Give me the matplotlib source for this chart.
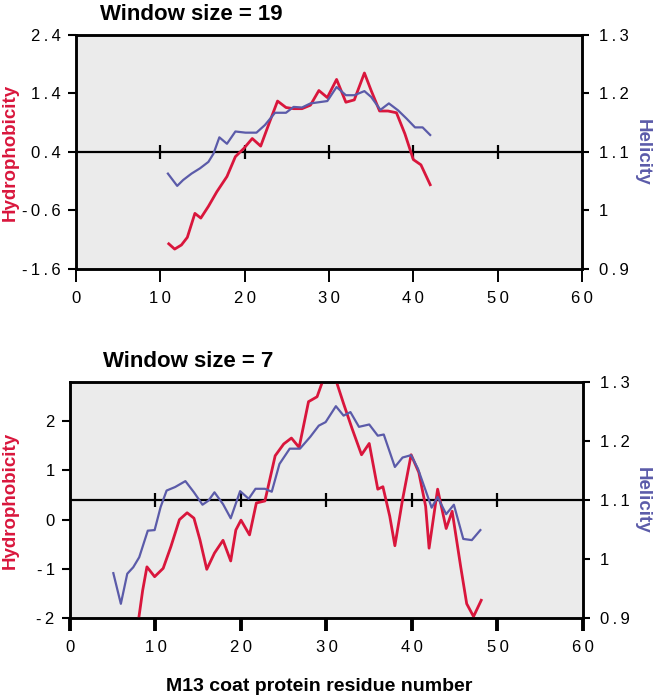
import numpy as np
import matplotlib
matplotlib.use('Agg')
import matplotlib.pyplot as plt

plt.rcParams['font.family'] = ['Liberation Sans', 'DejaVu Sans']

# Window size = 19
x19_hyd = [11.0, 11.7, 12.5, 13.2, 14.1, 14.8, 15.7, 16.7, 17.9, 18.9, 19.9, 20.9, 21.9,
           22.9, 23.9, 24.9, 25.8, 26.8, 27.8, 28.8, 29.8, 30.9, 32.0, 33.0, 34.2, 35.0,
           36.0, 37.0, 38.0, 39.0, 40.0, 40.9, 42.0]
hyd19 = [-1.17, -1.26, -1.19, -1.06, -0.65, -0.73, -0.53, -0.28, -0.02, 0.32, 0.46, 0.63, 0.50,
         0.89, 1.27, 1.16, 1.14, 1.14, 1.20, 1.45, 1.33, 1.64, 1.25, 1.29, 1.75, 1.45,
         1.10, 1.10, 1.07, 0.71, 0.27, 0.18, -0.16]
x19_hel = [10.9, 12.0, 12.7, 13.7, 14.7, 15.7, 16.3, 17.0, 17.9, 18.9, 20.1, 21.4, 22.4,
           23.6, 24.9, 25.8, 26.8, 27.8, 28.8, 29.8, 30.9, 32.0, 33.0, 34.2, 35.0, 36.1,
           37.1, 38.2, 39.2, 40.2, 41.1, 42.0]
hel19 = [1.063, 1.042, 1.052, 1.063, 1.072, 1.083, 1.097, 1.125, 1.114, 1.135, 1.133, 1.133, 1.146,
         1.167, 1.167, 1.177, 1.176, 1.183, 1.185, 1.187, 1.211, 1.197, 1.197, 1.204, 1.194, 1.172,
         1.183, 1.171, 1.157, 1.142, 1.142, 1.129]

# Window size = 7
x7_hyd = [8.05, 8.5, 9.0, 9.9, 10.9, 11.8, 12.8, 13.7, 14.5, 15.2, 16.0, 16.9, 17.9, 18.8,
          19.4, 20.0, 21.0, 21.8, 22.8, 24.0, 25.0, 25.9, 26.8, 27.9, 28.9, 29.6, 30.3,
          31.1, 32.0, 33.0, 34.1, 35.0, 36.0, 36.6, 37.4, 38.0, 38.9, 39.9, 40.8, 41.6,
          42.0, 43.0, 44.0, 44.7, 45.7, 46.4, 47.2, 48.1]
hyd7 = [-2.0, -1.44, -0.96, -1.16, -0.99, -0.55, 0.0, 0.14, 0.03, -0.41, -1.01, -0.68, -0.42, -0.84,
        -0.21, -0.01, -0.31, 0.34, 0.38, 1.30, 1.54, 1.66, 1.47, 2.40, 2.50, 2.84, 3.05,
        2.84, 2.36, 1.85, 1.32, 1.55, 0.62, 0.67, 0.07, -0.53, 0.41, 1.32, 0.96, 0.27,
        -0.58, 0.62, -0.18, 0.17, -0.96, -1.71, -1.97, -1.64]
x7_hel = [5.07, 5.95, 6.7, 7.4, 8.1, 9.1, 9.9, 10.6, 11.3, 12.3, 13.5, 14.5, 15.5, 16.2,
          16.9, 17.9, 18.8, 19.9, 20.9, 21.7, 22.8, 23.6, 24.5, 25.7, 26.9, 28.1, 29.1,
          29.9, 31.1, 32.0, 32.8, 33.8, 35.0, 36.0, 36.7, 38.0, 38.9, 39.9, 40.7, 41.6,
          42.3, 43.0, 44.0, 44.9, 46.0, 47.0, 48.0]
hel7 = [0.976, 0.924, 0.975, 0.986, 1.003, 1.048, 1.049, 1.088, 1.116, 1.122, 1.132, 1.113, 1.092, 1.099,
        1.113, 1.093, 1.069, 1.115, 1.102, 1.119, 1.119, 1.114, 1.161, 1.187, 1.187, 1.207, 1.226,
        1.232, 1.259, 1.243, 1.249, 1.224, 1.228, 1.209, 1.211, 1.156, 1.172, 1.176, 1.153, 1.116,
        1.087, 1.105, 1.076, 1.092, 1.034, 1.032, 1.049]

xticks = [0, 10, 20, 30, 40, 50, 60]
hyd_ticks19 = [-1.6, -0.6, 0.4, 1.4, 2.4]
hyd_labels19 = ['-1.6', '-0.6', '0.4', '1.4', '2.4']
hyd_ticks7 = [-2, -1, 0, 1, 2]
hyd_labels7 = ['-2', '-1', '0', '1', '2']
hel_ticks = [0.9, 1.0, 1.1, 1.2, 1.3]
hel_labels = ['0.9', '1', '1.1', '1.2', '1.3']

red = '#d9163c'
blue = '#5b5ba9'
bg = '#ebebeb'


def spaced(s):
    # the original tick labels are set with wide letter spacing
    return '\u2009'.join(s)


fig = plt.figure(figsize=(6.54, 6.99), dpi=100)


def panel(rect, title, title_x, xh, yh, xe, ye, hlim, hticks, hlabels, xtick_w, lab_x):
    ax = fig.add_axes(rect)
    ax.set_facecolor(bg)
    ax2 = ax.twinx()
    ax.plot(xh, yh, color=red, lw=2.0, zorder=3)
    ax2.plot(xe, ye, color=blue, lw=1.6, zorder=3)
    ax.set_xlim(0, 60)
    ax.set_ylim(*hlim)
    ax2.set_ylim(0.9, 1.3)
    mid = (hlim[0] + hlim[1]) / 2
    ax.axhline(mid, color='black', lw=1.6, zorder=2)
    ax.plot(xticks[1:-1], [mid] * 5, ls='none', marker='|', ms=10, mew=1.6, color='black', zorder=2)
    ax.set_xticks(xticks)
    ax.set_xticklabels([spaced(str(t)) for t in xticks])
    ax.set_yticks(hticks)
    ax.set_yticklabels([spaced(l) for l in hlabels])
    ax2.set_yticks(hel_ticks)
    ax2.set_yticklabels([spaced(l) for l in hel_labels])
    for a in (ax, ax2):
        for s in a.spines.values():
            s.set_linewidth(1.8)
    ax.tick_params(axis='x', length=9, width=xtick_w, pad=7, labelsize=12)
    ax.tick_params(axis='y', length=6, width=1.5, pad=5, labelsize=12)
    ax2.tick_params(axis='y', length=5, width=1.5, pad=7, labelsize=12)
    ax.set_ylabel('Hydrophobicity', color=red, fontsize=13.5, fontweight='bold')
    ax.yaxis.set_label_coords(lab_x[0], 0.5)
    ax2.set_ylabel('Helicity', color=blue, fontsize=13.5, fontweight='bold', rotation=-90)
    ax2.yaxis.set_label_coords(lab_x[1], 0.5)
    ax.set_title(title, loc='left', x=title_x, fontsize=16, fontweight='bold', pad=11)
    return ax


panel([0.1162, 0.6152, 0.7737, 0.3348], 'Window size = 19', 0.047, x19_hyd, hyd19, x19_hel, hel19,
      (-1.6, 2.4), hyd_ticks19, hyd_labels19, 1.4, (-0.113, 1.135))
ax = panel([0.1070, 0.1159, 0.7844, 0.3376], 'Window size = 7', 0.064, x7_hyd, hyd7, x7_hel, hel7,
           (-2, 2.8), hyd_ticks7, hyd_labels7, 2.8, (-0.100, 1.133))
ax.set_xlabel('M13 coat protein residue number', fontsize=14, fontweight='bold')
ax.xaxis.set_label_coords(0.485, -0.255)

fig.savefig('out.png', dpi=100)
